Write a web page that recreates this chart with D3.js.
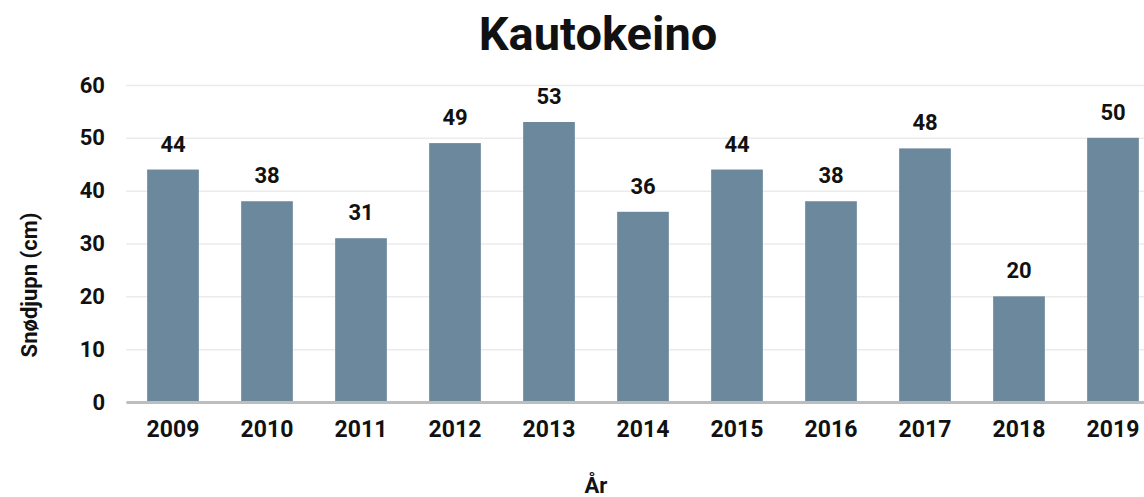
<!DOCTYPE html>
<html>
<head>
<meta charset="utf-8">
<script src="https://cdn.jsdelivr.net/npm/d3@7"></script>
<style>
  body { margin: 0; background: #fff; }
  svg text { font-family: Roboto, "Noto Sans", sans-serif; font-weight: bold; fill: #111; }
</style>
</head>
<body>
<svg id="chart" width="1144" height="497"></svg>
<script>
var years = ["2009", "2010", "2011", "2012", "2013", "2014", "2015", "2016", "2017", "2018", "2019"];
var depths = [44, 38, 31, 49, 53, 36, 44, 38, 48, 20, 50];
var yTicks = [0, 10, 20, 30, 40, 50, 60];

var svg = d3.select("#chart");
var margin = { top: 85, left: 126 };
var width = 11 * 94;
var height = 317;
var g = svg.append("g").attr("transform", "translate(" + margin.left + "," + margin.top + ")");

var x = d3.scaleBand().domain(years).range([0, width]).paddingInner(0.45).paddingOuter(0.225);
var y = d3.scaleLinear().domain([0, 60]).range([height, 0]);

// gridlines
g.append("g")
  .attr("class", "grid")
  .call(d3.axisLeft(y).tickValues(yTicks).tickSize(-width).tickFormat(""))
  .call(function (s) {
    s.select(".domain").remove();
    s.selectAll("line").attr("stroke", "#ebebeb").attr("stroke-width", 1.5);
  });

// y tick labels
g.append("g")
  .call(d3.axisLeft(y).tickValues(yTicks).tickSize(0).tickPadding(21))
  .call(function (s) {
    s.select(".domain").remove();
    s.selectAll("text").style("font-size", "22px").attr("fill", "#111");
  });

g.selectAll(".bar")
  .data(depths)
  .enter()
  .append("rect")
  .attr("class", "bar")
  .attr("x", function (d, i) { return x(years[i]); })
  .attr("width", x.bandwidth())
  .attr("y", function (d) { return y(d); })
  .attr("height", function (d) { return height - y(d); })
  .attr("fill", "#6b889d");

g.selectAll(".val")
  .data(depths)
  .enter()
  .append("text")
  .attr("class", "val")
  .attr("x", function (d, i) { return x(years[i]) + x.bandwidth() / 2; })
  .attr("y", function (d) { return y(d) - 18; })
  .attr("text-anchor", "middle")
  .style("font-size", "22px")
  .text(function (d) { return d; });

// x axis
g.append("g")
  .attr("transform", "translate(0," + height + ")")
  .call(d3.axisBottom(x).tickSize(0).tickPadding(19))
  .call(function (s) {
    s.select(".domain").attr("stroke", "#bdbdbd").attr("stroke-width", 3);
    s.selectAll("text").style("font-size", "23px").attr("fill", "#111");
  });

svg.append("text")
  .attr("x", 598)
  .attr("y", 50)
  .attr("text-anchor", "middle")
  .style("font-size", "47px")
  .text("Kautokeino");

svg.append("text")
  .attr("x", 596)
  .attr("y", 493)
  .attr("text-anchor", "middle")
  .style("font-size", "22px")
  .text("År");

svg.append("text")
  .attr("transform", "translate(37,285) rotate(-90)")
  .attr("text-anchor", "middle")
  .style("font-size", "22px")
  .text("Snødjupn (cm)");
</script>
</body>
</html>
